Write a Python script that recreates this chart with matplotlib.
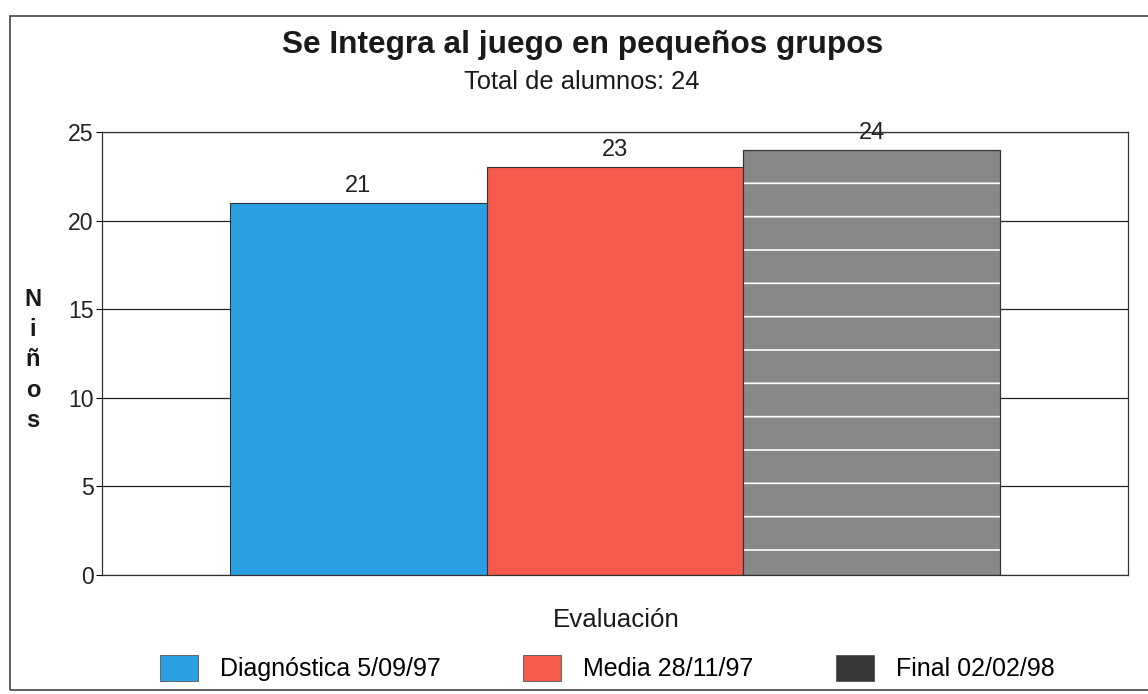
import matplotlib
matplotlib.use("Agg")
import matplotlib.pyplot as plt
from matplotlib.patches import Patch, Rectangle

# Datos del gráfico
categorias = ["Diagnóstica 5/09/97", "Media 28/11/97", "Final 02/02/98"]
valores = [21, 23, 24]
colores = ["#2b9fe4", "#f65a4c", "#888888"]
colores_leyenda = ["#2b9fe4", "#f65a4c", "#363636"]
yticks = [0, 5, 10, 15, 20, 25]

plt.rcParams['font.family'] = ['Liberation Sans', 'DejaVu Sans']
plt.rcParams['hatch.linewidth'] = 0.6

W, H = 1148, 694
DPI = 200
fig = plt.figure(figsize=(W / DPI, H / DPI), dpi=DPI)

# marco exterior escaneado
fig.patches.append(Rectangle((10 / W, 4 / H), 1.2, (H - 20) / H, transform=fig.transFigure,
                             fill=False, edgecolor="#444444", linewidth=0.6))

ax = fig.add_axes([102 / W, (H - 575) / H, (1128 - 102) / W, (575 - 132) / H])

x = list(range(len(valores)))
ax.bar(x, valores, width=1.0, color=colores, edgecolor="#333333", linewidth=0.4, zorder=2)
# líneas blancas sobre la barra final
ax.bar(x[2], valores[2], width=1.0, facecolor="none", edgecolor="white", hatch="-",
       linewidth=0, zorder=3)
ax.bar(x[2], valores[2], width=1.0, facecolor="none", edgecolor="#333333", linewidth=0.4, zorder=4)

for xi, v in zip(x, valores):
    ax.text(xi, v + 0.35, str(v), ha="center", va="bottom", fontsize=8.5, color="#222222")

ax.set_xlim(-1, 3)
ax.set_ylim(0, 25)
ax.set_yticks(yticks)
ax.set_xticks([])
ax.tick_params(axis="y", direction="out", length=2, width=0.4, pad=1, labelsize=8.3,
               labelcolor="#222222")
ax.yaxis.grid(True, color="#222222", linewidth=0.45, zorder=0)
ax.set_axisbelow(True)
for s in ax.spines.values():
    s.set_linewidth(0.45)
    s.set_color("#333333")

fig.text(583 / W, 1 - 45 / H, "Se Integra al juego en pequeños grupos", ha="center", va="center",
         fontsize=11.4, fontweight="bold", color="#1a1a1a")
fig.text(582 / W, 1 - 82 / H, "Total de alumnos: 24", ha="center", va="center",
         fontsize=9.2, color="#1a1a1a")
fig.text(616 / W, 1 - 620 / H, "Evaluación", ha="center", va="center", fontsize=9.3,
         color="#1a1a1a")
fig.text(33 / W, 1 - 360 / H, "N\ni\nñ\no\ns", ha="center", va="center", fontsize=8.5,
         fontweight="bold", color="#1a1a1a", linespacing=1.4)

handles = [Patch(facecolor=c, edgecolor="#555555", linewidth=0.3) for c in colores_leyenda]
fig.legend(handles, categorias, loc="center left", bbox_to_anchor=(160 / W, 1 - 668 / H),
           ncol=3, frameon=False, fontsize=9, handlelength=1.5, handleheight=1.2,
           handletextpad=0.9, columnspacing=3.3, borderpad=0, borderaxespad=0)

fig.savefig("out.png", dpi=DPI)
